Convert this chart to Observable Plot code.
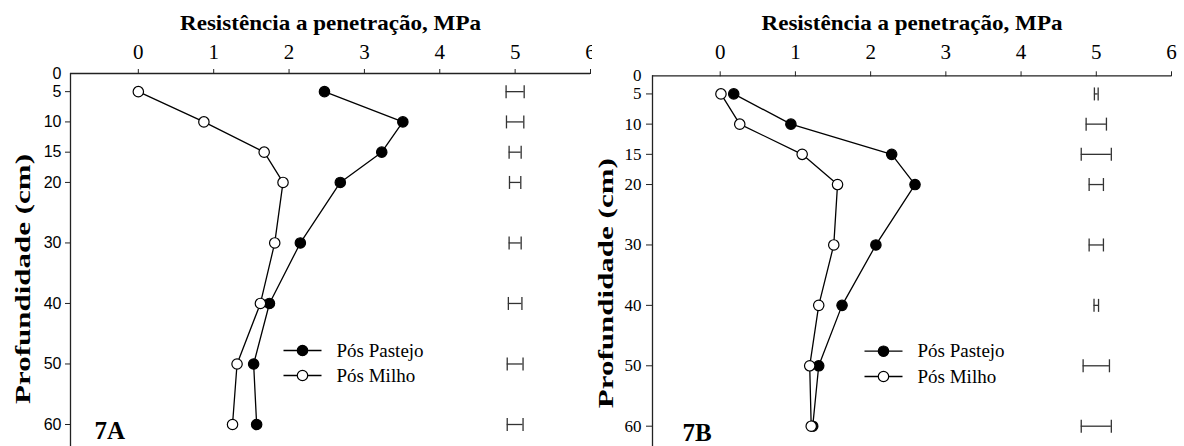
<!DOCTYPE html>
<html><head><meta charset="utf-8">
<script src="https://cdn.jsdelivr.net/npm/d3@7"></script>
<script src="https://cdn.jsdelivr.net/npm/@observablehq/plot@0.6"></script>
<style>
html,body{margin:0;padding:0;background:#fff;}
#wrap{display:flex;width:1184px;height:446px;overflow:hidden;}
#wrap svg{display:block;}
</style></head><body><div id="wrap"></div>
<script>
// ---- data ----
const depths = [5, 10, 15, 20, 30, 40, 50, 60];
const depthTicks = [5, 10, 15, 20, 30, 40, 50, 60];
const depthZero = [0];
const mpaTicks = [0, 1, 2, 3, 4, 5, 6];
const xDomain = [-0.9, 6];
const depthDomain = [0, 60];

const pastejoA = [2.47, 3.51, 3.23, 2.68, 2.15, 1.74, 1.53, 1.57];
const milhoA   = [0.00, 0.87, 1.67, 1.92, 1.81, 1.62, 1.31, 1.25];
const errA     = [0.24, 0.23, 0.16, 0.15, 0.16, 0.18, 0.21, 0.21];

const pastejoB = [0.18, 0.94, 2.28, 2.59, 2.07, 1.62, 1.31, 1.23];
const milhoB   = [0.01, 0.26, 1.09, 1.56, 1.51, 1.31, 1.19, 1.21];
const errB     = [0.05, 0.27, 0.40, 0.19, 0.19, 0.06, 0.35, 0.40];

const errCenter = 5;
const seriesNames = ["Pós Pastejo", "Pós Milho"];
const seriesFills = ["#000", "#fff"];
const panelLabels = ["7A", "7B"];
const xTitle = "Resistência a penetração, MPa";
const yTitle = "Profundidade (cm)";

// the original depth axis compresses the 0–5 cm band
const topBand = 5, topBandScale = 0.6;
const yv = d => d >= topBand ? d : topBand - (topBand - d) * topBandScale;
const yvInv = v => v >= topBand ? v : topBand - (topBand - v) / topBandScale;
const fmtDepth = v => String(Math.round(yvInv(v)));

// ---- custom symbols ----
const vbar = {draw(ctx, size){ const h = Math.sqrt(size/Math.PI); ctx.moveTo(0,-h); ctx.lineTo(0,h); }};
const hbar = {draw(ctx, size){ const h = Math.sqrt(size/Math.PI); ctx.moveTo(-h,0); ctx.lineTo(h,0); }};

const SERIF = "'Liberation Serif', 'Times New Roman', serif";
const SANS = "'Liberation Sans', Arial, sans-serif";

function panel(cfg){
  const rows = depths.map((d,i)=>({depth:d, past:cfg.past[i], milho:cfg.milho[i], err:cfg.err[i]}));
  const legendMarks = seriesNames.flatMap((name,i)=>[
    Plot.dot([name], {frameAnchor:"top-left", dx:cfg.legDx, dy:cfg.legDy + i*cfg.legStep, symbol:hbar, r:19, stroke:"#000", strokeWidth:1.3, fill:"none"}),
    Plot.dot([name], {frameAnchor:"top-left", dx:cfg.legDx, dy:cfg.legDy + i*cfg.legStep, r:5.2, fill:seriesFills[i], stroke:"#000", strokeWidth:1.2}),
    Plot.text([name], {frameAnchor:"top-left", dx:cfg.legDx+34, dy:cfg.legDy + i*cfg.legStep, text:d=>d, textAnchor:"start", lineAnchor:"middle", fontSize:19, fontFamily:SERIF, fill:"#000"})
  ]);
  const svg = Plot.plot({
    width: cfg.width, height: 446,
    marginLeft: cfg.left, marginRight: cfg.right, marginTop: cfg.top, marginBottom: 0,
    x: {domain: xDomain},
    y: {domain: depthDomain.map(yv), range: [cfg.top, cfg.y60]},
    style: {fontFamily: SERIF, color: "#000", background: "#fff", overflow: "visible"},
    marks: [
      Plot.ruleY(depthZero.map(yv), {stroke:"#222", strokeWidth:1.3}),
      Plot.ruleX([xDomain[0]], {stroke:"#222", strokeWidth:1.3}),
      Plot.axisX({anchor:"top", ticks:mpaTicks, tickSize:5, tickPadding:cfg.xPad, tickFormat:d3.format("d"), fontSize:21, fontFamily:SERIF, label:null, stroke:"#222"}),
      Plot.axisY({ticks:depthTicks.map(yv), tickFormat:fmtDepth, tickSize:cfg.yTick, tickPadding:cfg.yPad, fontSize:cfg.yFontSize, fontFamily:cfg.yFont, label:null, stroke:"#222"}),
      Plot.axisY({ticks:depthZero.map(yv), tickFormat:fmtDepth, tickSize:0, tickPadding:cfg.yTick+cfg.yPad, fontSize:cfg.yFontSize, fontFamily:cfg.yFont, label:null}),
      Plot.text([xTitle], {frameAnchor:"top", dy:cfg.titleDy, text:d=>d, textAnchor:"middle", lineAnchor:"middle", fontWeight:"bold", fontSize:22, fontFamily:SERIF, fill:"#000"}),
      Plot.text([yTitle], {frameAnchor:"left", rotate:-90, dx:cfg.yTitleDx, dy:cfg.yTitleDy, text:d=>d, textAnchor:"middle", lineAnchor:"middle", fontWeight:"bold", fontSize:22, fontFamily:SERIF, fill:"#000"}),
      Plot.ruleY(rows, {y:d=>yv(d.depth), x1:d=>errCenter-d.err/2, x2:d=>errCenter+d.err/2, stroke:"#333", strokeWidth:1.3}),
      Plot.dot(rows, {y:d=>yv(d.depth), x:d=>errCenter-d.err/2, symbol:vbar, r:6.5, stroke:"#333", strokeWidth:1.3, fill:"none"}),
      Plot.dot(rows, {y:d=>yv(d.depth), x:d=>errCenter+d.err/2, symbol:vbar, r:6.5, stroke:"#333", strokeWidth:1.3, fill:"none"}),
      Plot.line(rows, {x:"past", y:d=>yv(d.depth), stroke:"#000", strokeWidth:1.3}),
      Plot.line(rows, {x:"milho", y:d=>yv(d.depth), stroke:"#000", strokeWidth:1.3}),
      Plot.dot(rows, {x:"past", y:d=>yv(d.depth), r:5.2, fill:"#000", stroke:"#000", strokeWidth:1.2}),
      Plot.dot(rows, {x:"milho", y:d=>yv(d.depth), r:5.2, fill:"#fff", stroke:"#000", strokeWidth:1.2}),
      ...legendMarks,
      Plot.text([cfg.label], {frameAnchor:"bottom-left", dx:cfg.labelDx, dy:cfg.labelDy, text:d=>d, textAnchor:"start", lineAnchor:"middle", fontWeight:"bold", fontSize:25, fontFamily:SERIF, fill:"#000"})
    ]
  });
  const s = d3.select(svg);
  s.selectAll("text").filter(function(){return this.textContent === xTitle;})
    .attr("textLength", 301).attr("lengthAdjust", "spacingAndGlyphs");
  s.selectAll("text").filter(function(){return this.textContent === yTitle;})
    .attr("textLength", 250).attr("lengthAdjust", "spacingAndGlyphs");
  return svg;
}

const wrap = document.getElementById("wrap");
wrap.appendChild(panel({
  width:592, left:70, right:2, top:73, y60:424,
  past:pastejoA, milho:milhoA, err:errA,
  xPad:10, yTick:5, yPad:4, yFont:SANS, yFontSize:16,
  titleDy:-51, yTitleDx:-48, yTitleDy:19,
  legDx:232, legDy:277, legStep:25,
  label:panelLabels[0], labelDx:24, labelDy:-16
}));
wrap.appendChild(panel({
  width:592, left:60, right:13, top:75.3, y60:425.7,
  past:pastejoB, milho:milhoB, err:errB,
  xPad:12, yTick:6, yPad:5, yFont:SERIF, yFontSize:17,
  titleDy:-53, yTitleDx:-47, yTitleDy:22,
  legDx:231, legDy:275.4, legStep:25.3,
  label:panelLabels[1], labelDx:30, labelDy:-13.5
}));
</script></body></html>
